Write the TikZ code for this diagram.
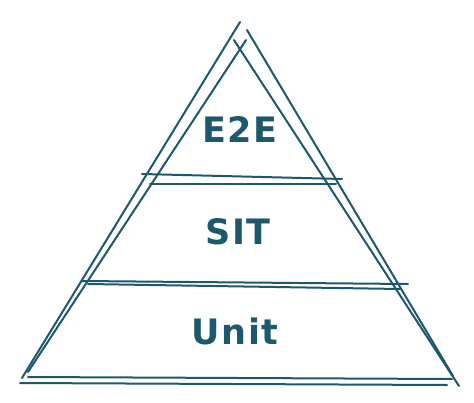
\documentclass[tikz,border=0pt]{standalone}
\usepackage{fontspec}
\setmainfont{Fira Sans}
\newfontfamily\labfont[LetterSpace=5,BoldFont={DejaVu Sans Bold}]{DejaVu Sans}
\definecolor{ink}{RGB}{30,88,108}
\begin{document}
\begin{tikzpicture}[x=1pt,y=-1pt,
  stroke/.style={draw=ink,line width=2pt,line cap=round},
  label/.style={text=ink,font=\labfont\bfseries\fontsize{35}{40}\selectfont,inner sep=0pt}]
\useasboundingbox[fill=white] (0,0) rectangle (474,402);
% left sides
\draw[stroke] (240,22) -- (22,378);
\draw[stroke] (246,40) -- (28,372);
% right sides
\draw[stroke] (234,40) -- (459,386);
\draw[stroke] (247,30) -- (453,376);
% base
\draw[stroke] (20,383) -- (447,385);
\draw[stroke] (28,377) -- (452,379);
% upper divider
\draw[stroke] (142,174) -- (342,179);
\draw[stroke] (150,184) -- (336,184);
% lower divider
\draw[stroke] (82,281) -- (408,284);
\draw[stroke] (88,284) -- (400,289);
% labels
\node[label] (e2e) at (240,130) {E2E};
\node[label] (sit) at (238,232) {SIT};
\node[label] (unit) at (235,331) {Unit};
\end{tikzpicture}
\end{document}
